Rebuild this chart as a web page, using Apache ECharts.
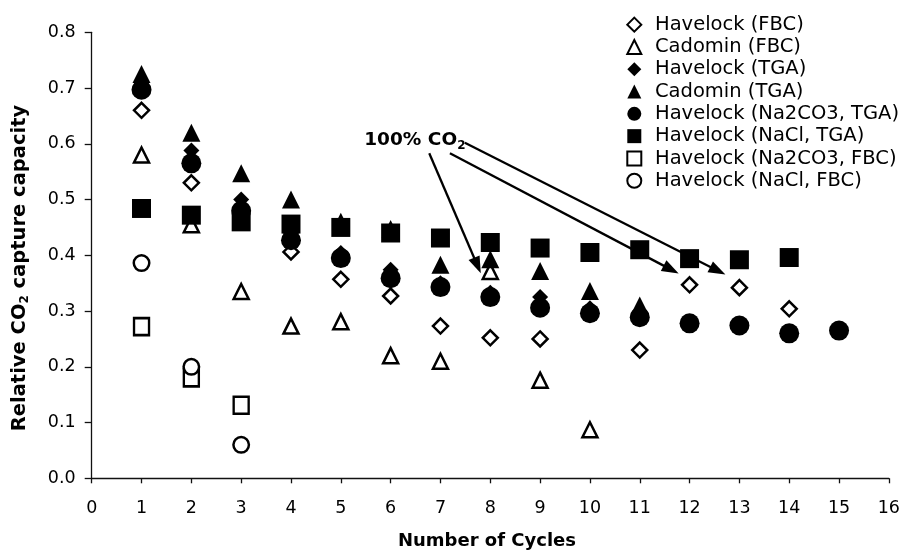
<!DOCTYPE html>
<html><head><meta charset="utf-8">
<script src="https://cdn.jsdelivr.net/npm/echarts/dist/echarts.min.js"></script>
<style>html,body{margin:0;padding:0;background:#fff}#c{width:903px;height:556px}</style>
</head><body><div id="c"></div>
<script>
// ---- data ----
const cycles = [1, 2, 3, 4, 5, 6, 7, 8, 9, 10, 11, 12, 13, 14, 15];
const xTicks = [0, 16, 1];           // min, max, interval
const yTicks = [0, 0.8, 0.1];        // min, max, interval
const seriesNames = ['Havelock (FBC)', 'Cadomin (FBC)', 'Havelock (TGA)', 'Cadomin (TGA)',
  'Havelock (Na2CO3, TGA)', 'Havelock (NaCl, TGA)', 'Havelock (Na2CO3, FBC)', 'Havelock (NaCl, FBC)'];
const havelockFBC      = [0.66, 0.53, null, 0.406, 0.357, 0.327, 0.273, 0.252, 0.25, null, 0.23, 0.347, 0.342, 0.304, null];
const cadominFBC       = [0.58, 0.455, 0.335, 0.273, 0.281, 0.22, 0.21, 0.371, 0.176, 0.087, null, null, null, null, null];
const havelockTGA      = [0.71, 0.588, 0.50, 0.44, 0.404, 0.374, 0.35, 0.333, 0.325, 0.305, 0.295, null, null, null, null];
const cadominTGA       = [0.725, 0.62, 0.547, 0.50, 0.46, 0.447, 0.383, 0.393, 0.372, 0.336, 0.31, null, null, null, null];
const havelockNa2CO3TGA= [0.697, 0.565, 0.48, 0.427, 0.395, 0.359, 0.343, 0.325, 0.306, 0.296, 0.289, 0.278, 0.274, 0.26, 0.265];
const havelockNaClTGA  = [0.484, 0.472, 0.46, 0.456, 0.45, 0.44, 0.431, 0.423, 0.413, 0.405, 0.41, 0.394, 0.392, 0.396, null];
const havelockNa2CO3FBC= [0.272, 0.18, 0.131];
const havelockNaClFBC  = [0.386, 0.20, 0.06];
// annotation "100% CO2": text anchor and arrows [from, to] in data units
const annotText = [5.47, 0.606];
const arrows = [
  [[6.775, 0.583], [7.742, 0.3816]],
  [[7.19, 0.583], [11.63, 0.3743]],
  [[7.49, 0.602], [12.567, 0.3724]]
];

// ---- build chart ----
function pts(arr) { const out = []; arr.forEach((v, i) => { if (v != null) out.push([cycles[i], v]); }); return out; }
const openStyle = { color: '#fff', borderColor: '#000', borderWidth: 2.5, opacity: 1 };
const fillStyle = { color: '#000', borderColor: '#000', borderWidth: 0, opacity: 1 };
const defs = [
  [havelockFBC, 'diamond', 15, openStyle],
  [cadominFBC, 'triangle', 15, openStyle],
  [havelockTGA, 'diamond', 16, fillStyle],
  [cadominTGA, 'triangle', 18, fillStyle],
  [havelockNa2CO3TGA, 'circle', 20, fillStyle],
  [havelockNaClTGA, 'rect', 19, fillStyle],
  [havelockNa2CO3FBC, 'rect', [15, 17], openStyle],
  [havelockNaClFBC, 'circle', 15.5, openStyle]
];
const series = defs.map((d, i) => ({
  name: seriesNames[i], type: 'scatter', data: pts(d[0]), symbol: d[1], symbolSize: d[2],
  itemStyle: d[3], emphasis: { disabled: true }, animation: false
}));
series.push({
  name: 'annot', type: 'scatter', data: [], silent: true, animation: false,
  markLine: {
    silent: true, animation: false, symbol: ['none', 'triangle'], symbolSize: [1, 14],
    label: { show: false }, emphasis: { disabled: true },
    lineStyle: { color: '#000', width: 2.3, type: 'solid', opacity: 1 },
    data: arrows.map(a => [{ coord: a[0], symbol: 'none' }, { coord: a[1], symbol: 'triangle', symbolSize: [12, 17] }])
  }
});

const FONT = 'DejaVu Sans';
const chart = echarts.init(document.getElementById('c'));
chart.setOption({
  backgroundColor: '#fff',
  animation: false,
  grid: { left: 91.7, right: 14, top: 32.3, bottom: 77.7 },
  xAxis: {
    type: 'value', min: xTicks[0], max: xTicks[1], interval: xTicks[2],
    axisLine: { lineStyle: { color: '#111', width: 1.3 } },
    axisTick: { length: 5, lineStyle: { color: '#111', width: 1.3 } },
    axisLabel: { margin: 21, fontFamily: FONT, fontSize: 17.5, color: '#000' },
    splitLine: { show: false }
  },
  yAxis: {
    type: 'value', min: yTicks[0], max: yTicks[1], interval: yTicks[2],
    axisLine: { show: true, lineStyle: { color: '#111', width: 1.3 } },
    axisTick: { show: true, length: 7, lineStyle: { color: '#111', width: 1.3 } },
    axisLabel: { margin: 16, fontFamily: FONT, fontSize: 17.5, color: '#000', formatter: v => v.toFixed(1) },
    splitLine: { show: false }
  },
  legend: {
    data: seriesNames, orient: 'vertical', left: 621.3, top: 8.5,
    itemWidth: 14, itemHeight: 14, itemGap: 0, selectedMode: false,
    textStyle: { fontFamily: FONT, fontSize: 19.5, color: '#000', lineHeight: 22.3, padding: [0, 0, 0, 8.7] }
  },
  series: series
});

const tp = chart.convertToPixel({ gridIndex: 0 }, annotText);
chart.setOption({
  graphic: [
    {
      type: 'text', x: tp[0], y: tp[1], silent: true,
      style: {
        text: '100% CO{s|2}', fontFamily: FONT, fontWeight: 'bold', fontSize: 18.5,
        fill: '#000', align: 'left', verticalAlign: 'middle', lineHeight: 22,
        rich: { s: { fontFamily: FONT, fontWeight: 'bold', fontSize: 12, lineHeight: 12, verticalAlign: 'bottom', fill: '#000' } }
      }
    },
    {
      type: 'text', x: 487, y: 541, silent: true,
      style: { text: 'Number of Cycles', fontFamily: FONT, fontWeight: 'bold', fontSize: 18, fill: '#000', align: 'center', verticalAlign: 'middle' }
    },
    {
      type: 'text', x: 20, y: 268, rotation: Math.PI / 2, silent: true,
      style: {
        text: 'Relative CO{s|2} capture capacity', fontFamily: FONT, fontWeight: 'bold', fontSize: 19.5,
        fill: '#000', align: 'center', verticalAlign: 'middle', lineHeight: 22,
        rich: { s: { fontFamily: FONT, fontWeight: 'bold', fontSize: 12, lineHeight: 12, verticalAlign: 'bottom', fill: '#000' } }
      }
    }
  ]
});
</script></body></html>
